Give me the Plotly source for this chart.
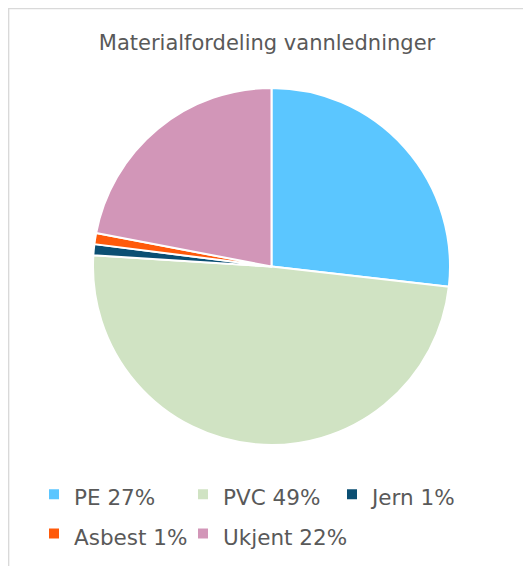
import plotly.graph_objects as go

labels = ["PE 27%", "PVC 49%", "Jern 1%", "Asbest 1%", "Ukjent 22%"]
values = [26.8, 49.2, 1.0, 1.0, 22.0]
colors = ["#5bc6ff", "#d0e3c3", "#0b4f73", "#ff5a0a", "#d296b8"]
title_text = "Materialfordeling vannledninger"

W, H = 531, 566
OFF = 8  # page body margin
cx, cy, r = 271.5 - OFF, 266.5 - OFF, 178.5

legend_labels = [f"<span style='font-size:21.5px'>{l}</span>" for l in labels]

fig = go.Figure(go.Pie(
    labels=legend_labels, values=values, sort=False, direction="clockwise", rotation=0,
    marker=dict(colors=colors, line=dict(color="white", width=2)),
    textinfo="none", hoverinfo="label+value",
    domain=dict(x=[(cx - r) / W, (cx + r) / W], y=[1 - (cy + r) / H, 1 - (cy - r) / H]),
))

fig.update_layout(
    width=W, height=H, margin=dict(l=0, r=0, t=0, b=0),
    paper_bgcolor="white", plot_bgcolor="white",
    font=dict(family="DejaVu Sans, Verdana, sans-serif", color="#595959"),
    title=dict(text=title_text, x=(267 - OFF) / W, xanchor="center", y=1 - (43 - OFF) / H,
               yanchor="middle", font=dict(size=21, color="#595959")),
    legend=dict(orientation="h", x=(34 - OFF) / W, xanchor="left", y=1 - (514 - OFF) / H,
                yanchor="middle", entrywidth=104, entrywidthmode="pixels",
                font=dict(size=28, color="#595959"), bgcolor="rgba(0,0,0,0)"),
    shapes=[dict(type="rect", xref="paper", yref="paper", x0=0.6 / W, x1=1.2, y0=-0.2,
                 y1=1 - 0.6 / H, line=dict(color="#d9d9d9", width=1.5),
                 fillcolor="rgba(0,0,0,0)", layer="below")],
)

fig.write_html("out.html")
